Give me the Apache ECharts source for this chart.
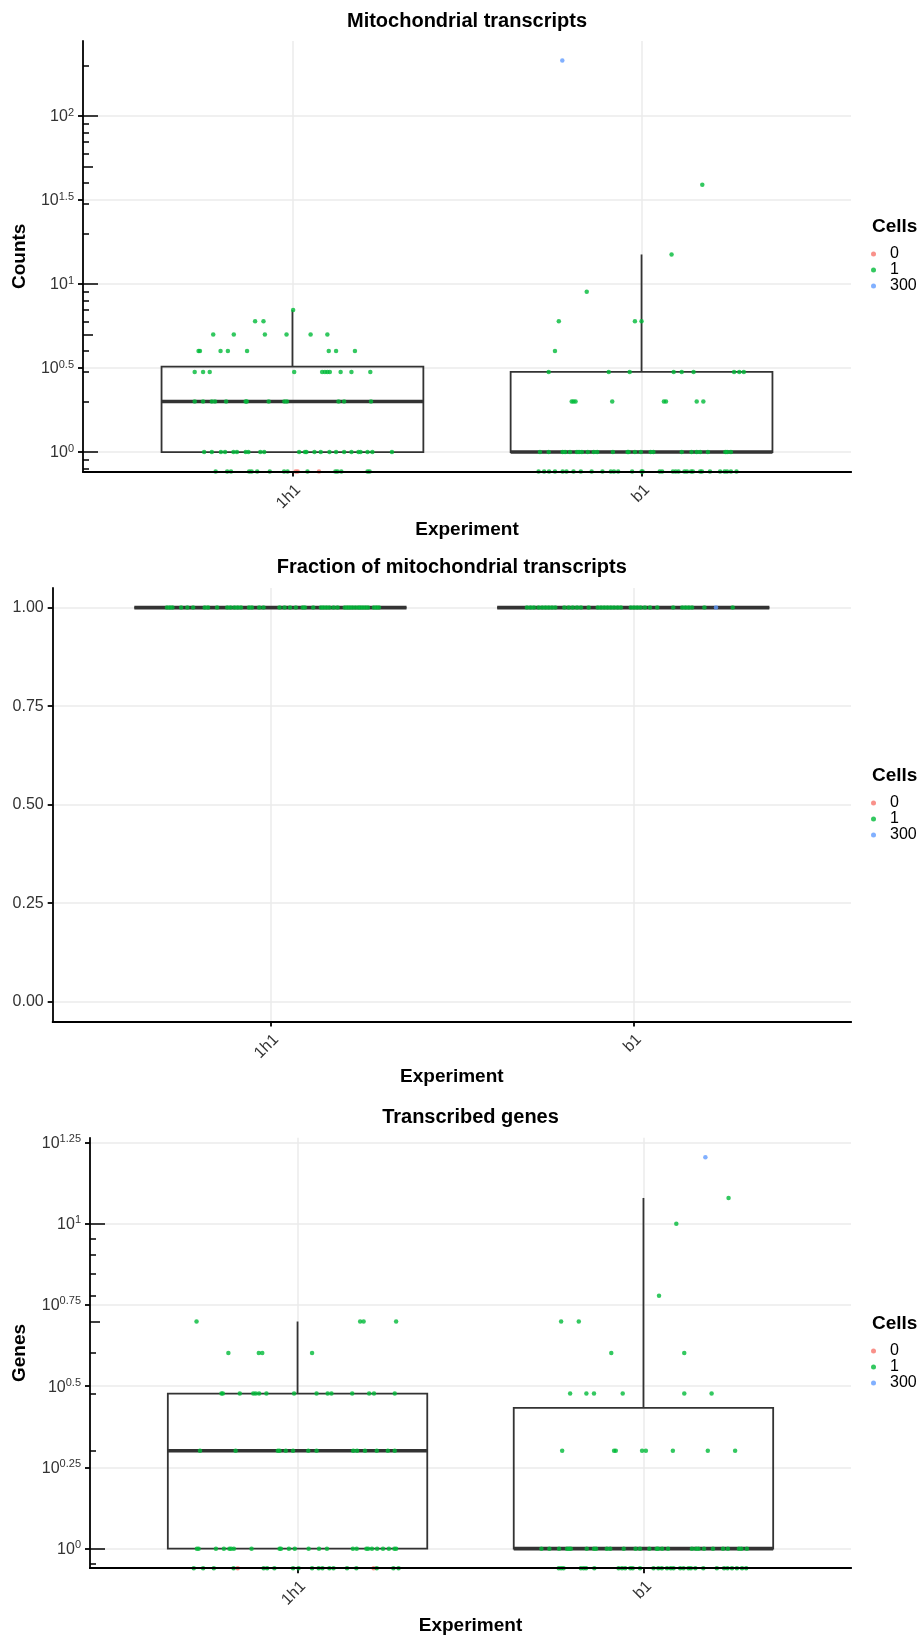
<!DOCTYPE html>
<html><head><meta charset="utf-8">
<script src="https://cdn.jsdelivr.net/npm/echarts@6/dist/echarts.min.js"></script>
<style>html,body{margin:0;padding:0;background:#fff}#c{width:921px;height:1639px}</style>
</head><body><div id="c"></div><script>
// ---------- categories / legend ----------
const experiments = ['1h1', 'b1'];
const cellLevels = ['0', '1', '300'];
const cellColors = ['#F8766D', '#00BA38', '#619CFF'];

// ---------- Panel 1: Mitochondrial transcripts (Counts); points = [jitter, count] ----------
const mitoCounts1h1 = [
  [0.002,7],
  [-0.107,6],[-0.083,6],
  [-0.227,5],[-0.168,5],[-0.079,5],[-0.017,5],[0.052,5],[0.100,5],
  [-0.269,4],[-0.265,4],[-0.206,4],[-0.185,4],[-0.130,4],[0.104,4],[0.125,4],[0.179,4],
  [-0.280,3],[-0.256,3],[-0.237,3],[0.005,3],[0.085,3],[0.093,3],[0.100,3],[0.107,3],[0.138,3],[0.169,3],[0.223,3],
  [-0.280,2],[-0.256,2],[-0.231,2],[-0.222,2],[-0.190,2],[-0.134,2],[-0.131,2],[-0.068,2],[-0.023,2],[-0.016,2],[0.132,2],[0.148,2],[0.225,2],
  [-0.253,1],[-0.231,1],[-0.205,1],[-0.193,1],[-0.169,1],[-0.159,1],[-0.134,1],[-0.126,1],[-0.092,1],[-0.081,1],[0.019,1],[0.036,1],
  [0.040,1],[0.063,1],[0.081,1],[0.106,1],[0.125,1],[0.148,1],[0.169,1],[0.189,1],[0.195,1],[0.215,1],[0.229,1],[0.285,1],
  [-0.220,0],[-0.187,0],[-0.176,0],[-0.124,0],[-0.117,0],[-0.101,0],[-0.065,0],[-0.024,0],[-0.014,0],[0.043,0],[0.123,0],
  [0.129,0],[0.140,0],[0.215,0],[0.221,0]
];
const mitoCounts1h1Cells0 = [[0.009,0],[0.015,0],[0.076,0]];
const mitoCountsB1 = [
  [0.174,39],[0.086,15],[-0.157,9],
  [-0.237,6],[-0.019,6],[0.000,6],
  [-0.248,4],
  [-0.266,3],[-0.094,3],[-0.034,3],[0.092,3],[0.115,3],[0.149,3],[0.265,3],[0.280,3],[0.293,3],
  [-0.200,2],[-0.195,2],[-0.189,2],[-0.084,2],[0.064,2],[0.070,2],[0.158,2],[0.177,2],
  [-0.291,1],[-0.266,1],[-0.226,1],[-0.219,1],[-0.205,1],[-0.185,1],[-0.179,1],[-0.171,1],[-0.154,1],[-0.137,1],[-0.127,1],[-0.082,1],[-0.040,1],
  [-0.037,1],[-0.019,1],[-0.002,1],[0.026,1],[0.034,1],[0.115,1],[0.143,1],[0.158,1],[0.168,1],[0.190,1],[0.240,1],[0.245,1],[0.256,1],
  [-0.295,0],[-0.279,0],[-0.265,0],[-0.248,0],[-0.226,0],[-0.215,0],[-0.195,0],[-0.174,0],[-0.143,0],[-0.112,0],[-0.088,0],[-0.079,0],
  [-0.067,0],[-0.027,0],[0.000,0],[0.003,0],[0.052,0],[0.059,0],[0.090,0],[0.098,0],[0.106,0],[0.123,0],[0.130,0],[0.142,0],[0.147,0],
  [0.168,0],[0.173,0],[0.196,0],[0.225,0],[0.238,0],[0.245,0],[0.256,0],[0.272,0]
];
const mitoCountsB1Cells300 = [[-0.227,214]];
// box stats: [lower whisker, Q1, median, Q3, upper whisker]
const mitoBox1h1 = [1, 1, 2, 3.22, 7];
const mitoBoxB1 = [1, 1, 1, 3, 15];
const countsTickExponents = [0, 0.5, 1, 1.5, 2];

// ---------- Panel 2: Fraction of mitochondrial transcripts ----------
const fraction1h1 = [
  [-0.285,1],[-0.277,1],[-0.270,1],[-0.246,1],[-0.229,1],[-0.213,1],[-0.181,1],[-0.172,1],[-0.147,1],[-0.119,1],[-0.110,1],
  [-0.099,1],[-0.090,1],[-0.081,1],[-0.059,1],[-0.051,1],[-0.031,1],[-0.019,1],[0.025,1],[0.039,1],[0.054,1],[0.070,1],
  [0.089,1],[0.095,1],[0.118,1],[0.139,1],[0.146,1],[0.154,1],[0.162,1],[0.174,1],[0.185,1],[0.205,1],[0.212,1],[0.219,1],
  [0.226,1],[0.234,1],[0.242,1],[0.248,1],[0.255,1],[0.262,1],[0.269,1],[0.285,1],[0.292,1],[0.299,1]
];
const fractionB1 = [
  [-0.293,1],[-0.283,1],[-0.274,1],[-0.261,1],[-0.251,1],[-0.242,1],[-0.233,1],[-0.224,1],[-0.215,1],[-0.190,1],[-0.178,1],
  [-0.167,1],[-0.155,1],[-0.144,1],[-0.123,1],[-0.098,1],[-0.089,1],[-0.080,1],[-0.071,1],[-0.062,1],[-0.053,1],[-0.043,1],
  [-0.034,1],[-0.007,1],[0.002,1],[0.011,1],[0.020,1],[0.032,1],[0.046,1],[0.066,1],[0.110,1],[0.135,1],[0.144,1],[0.153,1],
  [0.162,1],[0.196,1],[0.274,1]
];
const fractionB1Cells300 = [[0.228,1]];
const fractionBox1h1 = [1, 1, 1, 1, 1];
const fractionBoxB1 = [1, 1, 1, 1, 1];
const fractionTicks = [0, 0.25, 0.5, 0.75, 1];

// ---------- Panel 3: Transcribed genes ----------
const genes1h1 = [
  [-0.292,5],[0.181,5],[0.191,5],[0.285,5],
  [-0.200,4],[-0.112,4],[-0.102,4],[0.042,4],
  [-0.220,3],[-0.216,3],[-0.167,3],[-0.128,3],[-0.121,3],[-0.111,3],[-0.090,3],[-0.010,3],[0.055,3],[0.087,3],[0.098,3],[0.158,3],[0.207,3],[0.221,3],[0.281,3],
  [-0.282,2],[-0.179,2],[-0.057,2],[-0.052,2],[-0.034,2],[-0.013,2],[0.031,2],[0.055,2],[0.161,2],[0.172,2],[0.195,2],[0.229,2],[0.261,2],[0.281,2],
  [-0.291,1],[-0.286,1],[-0.236,1],[-0.213,1],[-0.197,1],[-0.192,1],[-0.184,1],[-0.133,1],[-0.052,1],[-0.048,1],[-0.025,1],[-0.008,1],[0.032,1],
  [0.062,1],[0.085,1],[0.160,1],[0.171,1],[0.199,1],[0.204,1],[0.215,1],[0.230,1],[0.247,1],[0.264,1],[0.280,1],[0.285,1],
  [-0.300,0],[-0.273,0],[-0.242,0],[-0.185,0],[-0.098,0],[-0.088,0],[-0.067,0],[-0.013,0],[0.003,0],[0.042,0],[0.061,0],[0.072,0],
  [0.092,0],[0.104,0],[0.143,0],[0.170,0],[0.229,0],[0.277,0],[0.292,0]
];
const genes1h1Cells0 = [[-0.173,0],[0.220,0]];
const genesB1 = [
  [0.246,12],[0.095,10],[0.045,6],
  [-0.238,5],[-0.187,5],
  [-0.093,4],[0.118,4],
  [-0.212,3],[-0.165,3],[-0.143,3],[-0.060,3],[0.118,3],[0.197,3],
  [-0.235,2],[-0.085,2],[-0.080,2],[-0.004,2],[0.007,2],[0.085,2],[0.186,2],[0.265,2],
  [-0.295,1],[-0.272,1],[-0.244,1],[-0.221,1],[-0.215,1],[-0.210,1],[-0.164,1],[-0.143,1],[-0.137,1],[-0.106,1],[-0.096,1],[-0.057,1],
  [-0.023,1],[-0.010,1],[0.017,1],[0.038,1],[0.042,1],[0.054,1],[0.071,1],[0.140,1],[0.152,1],[0.159,1],[0.175,1],[0.201,1],[0.230,1],
  [0.244,1],[0.276,1],[0.283,1],[0.299,1],
  [-0.245,0],[-0.238,0],[-0.231,0],[-0.181,0],[-0.173,0],[-0.166,0],[-0.142,0],[-0.072,0],[-0.062,0],[-0.053,0],[-0.038,0],[-0.031,0],
  [-0.010,0],[0.029,0],[0.043,0],[0.053,0],[0.068,0],[0.079,0],[0.087,0],[0.106,0],[0.116,0],[0.130,0],[0.137,0],[0.150,0],[0.173,0],
  [0.212,0],[0.233,0],[0.243,0],[0.256,0],[0.270,0],[0.285,0],[0.297,0]
];
const genesB1Cells300 = [[0.179,16]];
const genesBox1h1 = [1, 1, 2, 3, 5];
const genesBoxB1 = [1, 1, 1, 2.71, 12];
const genesTickExponents = [0, 0.25, 0.5, 0.75, 1, 1.25];

// ---------- drawing ----------
const FONT = '"Liberation Sans", Arial, Helvetica, sans-serif';
const AX = '#000000';
const TXT = '#333333';
const GRIDC = '#ebebeb';
const BOXC = '#333333';

function logExtent(allVals) {
  const m = Math.log10(Math.max.apply(null, allVals.filter(v => v > 0)));
  return [-0.05 * m, 1.05 * m];
}
function valsOf(arrs) { const o = []; arrs.forEach(a => a.forEach(p => o.push(p[1]))); return o; }

const panels = [
  {
    title: 'Mitochondrial transcripts', ytitle: 'Counts', log: true,
    grid: {left: 83, top: 41, width: 768, height: 430.6},
    ticks: countsTickExponents,
    groups: [
      {exp: 0, cell: 1, pts: mitoCounts1h1}, {exp: 0, cell: 0, pts: mitoCounts1h1Cells0},
      {exp: 1, cell: 1, pts: mitoCountsB1}, {exp: 1, cell: 2, pts: mitoCountsB1Cells300}
    ],
    boxes: [mitoBox1h1, mitoBoxB1],
    titleY: 21, xtitleY: 530, legendTitleY: 227, legendTop: 246
  },
  {
    title: 'Fraction of mitochondrial transcripts', ytitle: '', log: false,
    grid: {left: 52.7, top: 587.9, width: 798.3, height: 433.5},
    ticks: fractionTicks,
    groups: [
      {exp: 0, cell: 1, pts: fraction1h1},
      {exp: 1, cell: 1, pts: fractionB1}, {exp: 1, cell: 2, pts: fractionB1Cells300}
    ],
    boxes: [fractionBox1h1, fractionBoxB1],
    titleY: 567, xtitleY: 1077, legendTitleY: 776, legendTop: 795
  },
  {
    title: 'Transcribed genes', ytitle: 'Genes', log: true,
    grid: {left: 90, top: 1137.8, width: 761, height: 430.4},
    ticks: genesTickExponents,
    groups: [
      {exp: 0, cell: 1, pts: genes1h1}, {exp: 0, cell: 0, pts: genes1h1Cells0},
      {exp: 1, cell: 1, pts: genesB1}, {exp: 1, cell: 2, pts: genesB1Cells300}
    ],
    boxes: [genesBox1h1, genesBoxB1],
    titleY: 1117, xtitleY: 1626, legendTitleY: 1324, legendTop: 1343
  }
];

const grid = [], xAxis = [], yAxis = [], series = [], legend = [], graphic = [];
const catPositions = experiments.map((_, i) => i + 1);
const lineStyle = {color: AX, width: 1.8};

function boxRender(params, api) {
  const x = api.value(0);
  const lw = api.value(1), q1 = api.value(2), med = api.value(3), q3 = api.value(4), uw = api.value(5);
  const half = 0.375;
  const tl = api.coord([x - half, q3]);
  const br = api.coord([x + half, q1]);
  const m = api.coord([x, med]);
  const top = api.coord([x, uw]);
  const bot = api.coord([x, lw]);
  const st = {stroke: BOXC, lineWidth: 1.8, fill: null};
  return {type: 'group', children: [
    {type: 'line', shape: {x1: top[0], y1: top[1], x2: top[0], y2: tl[1]}, style: st},
    {type: 'line', shape: {x1: bot[0], y1: bot[1], x2: bot[0], y2: br[1]}, style: st},
    {type: 'rect', shape: {x: tl[0], y: tl[1], width: br[0] - tl[0], height: br[1] - tl[1]}, style: {stroke: BOXC, lineWidth: 1.8, fill: 'rgba(0,0,0,0)'}},
    {type: 'line', shape: {x1: tl[0], y1: m[1], x2: br[0], y2: m[1]}, style: {stroke: BOXC, lineWidth: 3.6}}
  ]};
}

panels.forEach((p, pi) => {
  grid.push(Object.assign({containLabel: false, outerBoundsMode: 'none'}, p.grid));
  let ext;
  if (p.log) {
    const allVals = valsOf(p.groups.map(g => g.pts)).concat([].concat.apply([], p.boxes));
    ext = logExtent(allVals);
  } else {
    ext = [-0.05, 1.05];
  }
  const ty = v => p.log ? (v > 0 ? Math.log10(v) : ext[0]) : v;

  // x axes
  xAxis.push({
    type: 'value', gridIndex: pi, min: 0.4, max: 2.6, position: 'bottom', z: 0,
    axisLine: {show: true, onZero: false, lineStyle},
    axisTick: {show: true, customValues: catPositions, length: 5, lineStyle},
    axisLabel: {show: true, customValues: catPositions, formatter: v => experiments[Math.round(v) - 1],
      rotate: 45, margin: 10, align: 'right', verticalAlign: 'top',
      fontSize: 16, color: TXT, fontFamily: FONT},
    splitLine: {show: true, lineStyle: {color: GRIDC, width: 1.5}}
  });
  // y main axis
  const mainY = yAxis.length;
  yAxis.push({
    type: 'value', gridIndex: pi, min: ext[0], max: ext[1], position: 'left', z: 0,
    axisLine: {show: true, onZero: false, lineStyle},
    axisTick: {show: true, customValues: p.ticks, length: 5, lineStyle},
    axisLabel: p.log ? {
      customValues: p.ticks, margin: 9, fontFamily: FONT, color: TXT,
      formatter: v => '{b|10}{s|' + String(parseFloat(v.toFixed(2))) + '}',
      rich: {
        b: {fontSize: 16, lineHeight: 18, verticalAlign: 'bottom', color: TXT, fontFamily: FONT},
        s: {fontSize: 11, lineHeight: 11, verticalAlign: 'top', color: TXT, fontFamily: FONT}
      }
    } : {customValues: p.ticks, margin: 9, fontSize: 16, color: TXT, fontFamily: FONT, formatter: v => v.toFixed(2)},
    splitLine: {show: true, lineStyle: {color: GRIDC, width: 1.5}}
  });
  // log ticks (annotation_logticks)
  if (p.log) {
    const short = [], mid = [], long = [];
    [0.1, 1, 10, 100, 1000].forEach(d => {
      for (let k = 1; k <= 9; k++) {
        const v = Math.log10(k * d);
        if (v < ext[0] || v > ext[1]) continue;
        (k === 1 ? long : k === 5 ? mid : short).push(v);
      }
    });
    [[short, 6], [mid, 10], [long, 15]].forEach(([vals, len]) => {
      yAxis.push({
        type: 'value', gridIndex: pi, min: ext[0], max: ext[1], position: 'left', z: 0,
        axisLine: {show: false, onZero: false},
        axisTick: {show: true, inside: true, customValues: vals, length: len, lineStyle: {color: AX, width: 1.5}},
        axisLabel: {show: false}, splitLine: {show: false}
      });
    });
  }

  // boxes
  series.push({
    type: 'custom', xAxisIndex: pi, yAxisIndex: mainY, silent: true, z: 2, clip: false,
    renderItem: boxRender, encode: {x: 0, y: [1, 2, 3, 4, 5]},
    data: p.boxes.map((b, i) => [i + 1].concat(b.map(ty)))
  });
  // points by cell level
  cellLevels.forEach((lvl, ci) => {
    const data = [];
    p.groups.filter(g => g.cell === ci).forEach(g => {
      g.pts.forEach(pt => data.push([g.exp + 1 + pt[0], ty(pt[1])]));
    });
    if (!data.length) return;
    series.push({
      type: 'scatter', name: lvl, xAxisIndex: pi, yAxisIndex: mainY, silent: true, z: 3,
      symbol: 'circle', symbolSize: 4.5, itemStyle: {color: cellColors[ci]},
      emphasis: {disabled: true}, data
    });
  });

  // legend
  legend.push({
    data: cellLevels, orient: 'vertical', left: 871, top: p.legendTop, padding: 0,
    itemWidth: 5, itemHeight: 5, itemGap: 0, icon: 'circle', selectedMode: false,
    textStyle: {fontSize: 16, lineHeight: 16, color: '#000', fontFamily: FONT, padding: [0, 0, 0, 9]}
  });

  const cx = p.grid.left + p.grid.width / 2;
  const cy = p.grid.top + p.grid.height / 2;
  graphic.push({type: 'text', x: cx, y: p.titleY, silent: true,
    style: {text: p.title, font: 'bold 20px ' + FONT, fill: '#000', textAlign: 'center', textVerticalAlign: 'middle', align: 'center', verticalAlign: 'middle'}});
  graphic.push({type: 'text', x: cx, y: p.xtitleY, silent: true,
    style: {text: 'Experiment', font: 'bold 19px ' + FONT, fill: '#000', textAlign: 'center', textVerticalAlign: 'middle', align: 'center', verticalAlign: 'middle'}});
  if (p.ytitle) {
    graphic.push({type: 'text', x: 19.5, y: cy, rotation: Math.PI / 2, silent: true,
      style: {text: p.ytitle, font: 'bold 19px ' + FONT, fill: '#000', textAlign: 'center', textVerticalAlign: 'middle', align: 'center', verticalAlign: 'middle'}});
  }
  graphic.push({type: 'text', x: 872, y: p.legendTitleY, silent: true,
    style: {text: 'Cells', font: 'bold 19px ' + FONT, fill: '#000', textAlign: 'left', textVerticalAlign: 'middle', align: 'left', verticalAlign: 'middle'}});
});

// overlay x axis lines drawn above points (points at -Inf sit under the axis line)
panels.forEach((p, pi) => {
  xAxis.push({
    type: 'value', gridIndex: pi, min: 0.4, max: 2.6, position: 'bottom', z: 10,
    axisLine: {show: true, onZero: false, lineStyle},
    axisTick: {show: false}, axisLabel: {show: false}, splitLine: {show: false}
  });
});

const chart = echarts.init(document.getElementById('c'), null, {renderer: 'canvas', width: 921, height: 1639});
chart.setOption({
  animation: false, backgroundColor: '#ffffff',
  grid, xAxis, yAxis, series, legend, graphic
});
</script></body></html>
